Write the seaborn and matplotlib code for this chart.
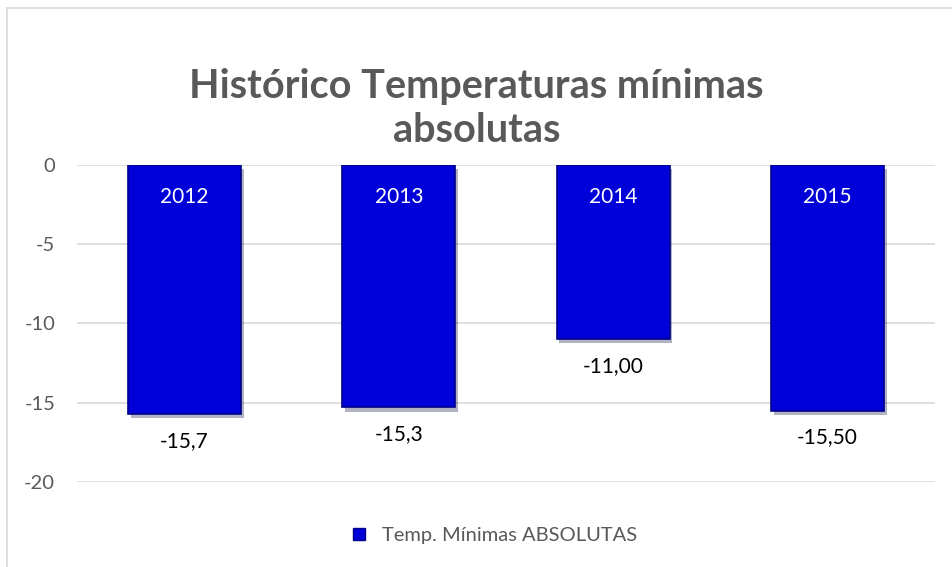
import matplotlib
matplotlib.use("Agg")
import matplotlib.pyplot as plt
import matplotlib.patheffects as pe
from matplotlib.lines import Line2D
import seaborn as sns
import pandas as pd

# data
years = ["2012", "2013", "2014", "2015"]
temps = [-15.7, -15.3, -11.0, -15.5]
value_labels = ["-15,7", "-15,3", "-11,00", "-15,50"]
y_ticks = [0, -5, -10, -15, -20]

title = "Histórico Temperaturas mínimas\nabsolutas"
series_name = "Temp. Mínimas ABSOLUTAS"

bar_color = "#0000D8"
grey = "#595959"

sns.set_theme(style="white")
plt.rcParams["font.family"] = ["Lato", "DejaVu Sans"]

df = pd.DataFrame({"year": years, "temp": temps})

fig = plt.figure(figsize=(9.53, 5.67), dpi=100)
ax = fig.add_axes([0.0812, 0.150, 0.8995, 0.559])

sns.barplot(data=df, x="year", y="temp", color=bar_color, width=0.527,
            saturation=1, edgecolor="#00008A", linewidth=1.2, ax=ax, zorder=3)

for p in ax.patches:
    p.set_path_effects([pe.SimplePatchShadow(offset=(2, -3), alpha=0.3), pe.Normal()])

ax.set_ylim(-20, 0)
ax.set_yticks(y_ticks)
ax.set_yticklabels([str(t) for t in y_ticks], color=grey, fontsize=14.5)
ax.tick_params(axis="y", length=0, pad=16)
ax.set_xticks([])
ax.set_xlabel("")
ax.set_ylabel("")
for s in ax.spines.values():
    s.set_visible(False)
ax.yaxis.grid(True, color="#D9D9D9", linewidth=1.2, zorder=0)
ax.set_axisbelow(True)

# year labels inside the bars, values below them
for i, (yr, v, lab) in enumerate(zip(years, temps, value_labels)):
    ax.text(i, -2.0, yr, ha="center", va="center", color="white", fontsize=15, zorder=5)
    ax.text(i, v - 1.7, lab, ha="center", va="center", color="black", fontsize=15, zorder=5)

fig.text(0.5, 0.809, title, ha="center", va="center", fontsize=28.5,
         fontweight="bold", color=grey, linespacing=1.22)

handle = Line2D([], [], marker="s", linestyle="", markersize=9,
                markerfacecolor=bar_color, markeredgecolor="#00008A")
fig.legend([handle], [series_name], loc="center", bbox_to_anchor=(0.512, 0.0555),
           frameon=False, handletextpad=0.1, prop={"size": 14.5}, labelcolor=grey)

# chart frame (left and top edges are visible in the reference)
fig.add_artist(Line2D([0.0073, 0.0073], [0, 0.986], color="#D9D9D9", linewidth=1.2))
fig.add_artist(Line2D([0.0073, 1.0], [0.986, 0.986], color="#D9D9D9", linewidth=1.2))

fig.savefig("out.png", dpi=100)
